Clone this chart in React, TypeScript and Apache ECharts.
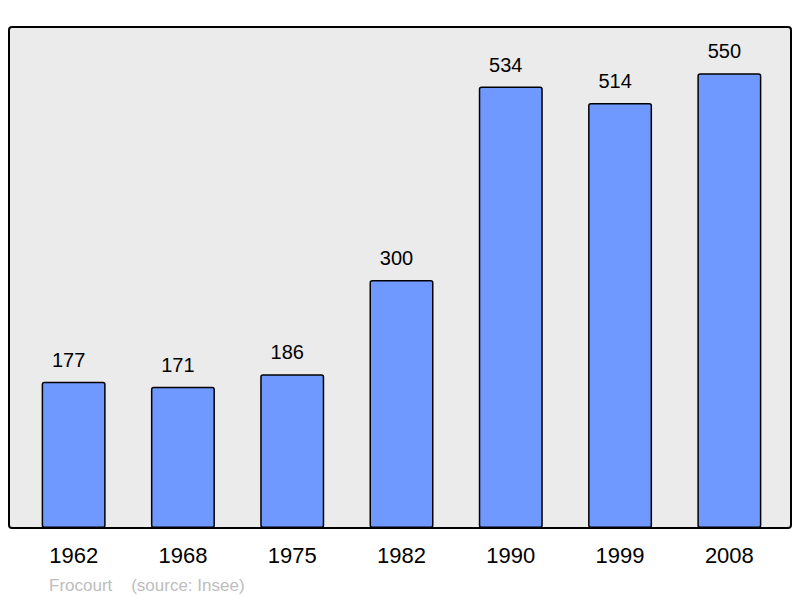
import React, { useEffect, useRef } from "react";
import * as echarts from "echarts";

const years = ["1962", "1968", "1975", "1982", "1990", "1999", "2008"];
const population = [177, 171, 186, 300, 534, 514, 550];
const footerText = "Frocourt    (source: Insee)";

export default function App() {
  const ref = useRef<HTMLDivElement>(null);
  useEffect(() => {
    if (!ref.current) return;
    const chart = echarts.init(ref.current, null, { renderer: "svg" });
    chart.setOption({
      animation: false,
      textStyle: { fontFamily: "Liberation Sans, Arial, sans-serif" },
      grid: { left: 19, right: 16, top: 32, bottom: 70 },
      graphic: [
        {
          type: "rect",
          z: -10,
          shape: { x: 9, y: 27, width: 782, height: 501, r: 3 },
          style: { fill: "#ebebeb", stroke: "#000", lineWidth: 2 },
        },
        {
          type: "text",
          left: 49,
          top: 577,
          style: {
            text: footerText,
            fill: "#bdbdbd",
            font: "17px Liberation Sans, Arial, sans-serif",
          },
        },
      ],
      xAxis: {
        type: "category",
        data: years,
        axisLine: { show: false },
        axisTick: { show: false },
        axisLabel: { color: "#000", fontSize: 22, margin: 16 },
      },
      yAxis: {
        type: "value",
        min: 0,
        max: 600,
        show: false,
        splitLine: { show: false },
      },
      series: [
        {
          type: "bar",
          data: population,
          barWidth: 64,
          itemStyle: {
            color: "#7099ff",
            borderColor: "#000",
            borderWidth: 1.5,
            borderRadius: 2,
          },
          label: {
            show: true,
            position: "top",
            distance: 12,
            offset: [-5, 0],
            color: "#000",
            fontSize: 20,
          },
        },
      ],
    });
    return () => chart.dispose();
  }, []);
  return <div ref={ref} style={{ width: 800, height: 598, position: "absolute", left: 0, top: 0 }} />;
}
